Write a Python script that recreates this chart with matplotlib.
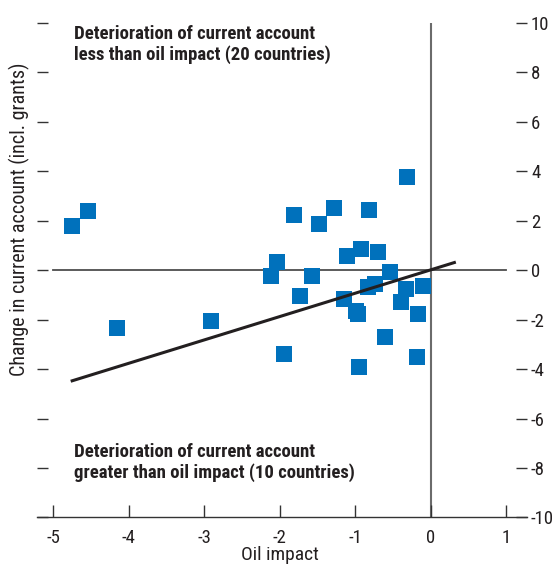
import matplotlib
matplotlib.use("Agg")
import matplotlib.pyplot as plt
from matplotlib import font_manager

# Oil impact vs. change in current account (incl. grants), percent of GDP
oil_impact = [-4.75, -4.54, -4.16, -2.91, -1.95, -2.12, -2.04, -1.81, -1.73, -1.58,
              -1.48, -1.28, -1.11, -1.15, -0.99, -0.96, -0.95, -0.92, -0.83, -0.82,
              -0.74, -0.70, -0.61, -0.54, -0.39, -0.33, -0.31, -0.17, -0.18, -0.10]
ca_change = [1.80, 2.41, -2.32, -2.04, -3.37, -0.22, 0.34, 2.22, -1.06, -0.22,
             1.89, 2.50, 0.59, -1.18, -1.66, -1.76, -3.91, 0.84, -0.66, 2.42,
             -0.57, 0.72, -2.69, -0.09, -1.30, -0.74, 3.79, -1.75, -3.49, -0.62]

# Fitted line endpoints
fit_x = [-4.77, 0.33]
fit_y = [-4.49, 0.33]

x_ticks = [-5, -4, -3, -2, -1, 0, 1]
y_ticks = [-10, -8, -6, -4, -2, 0, 2, 4, 6, 8, 10]

upper_note = "Deterioration of current account\nless than oil impact (20 countries)"
lower_note = "Deterioration of current account\ngreater than oil impact (10 countries)"

# pick a narrow sans face if one is available
available = {f.name for f in font_manager.fontManager.ttflist}
narrow = None
for cand in ("Liberation Sans Narrow", "Roboto Condensed", "Open Sans Condensed",
             "Arial Narrow", "Noto Sans Display"):
    if cand in available:
        narrow = cand
        break
if narrow is None:
    narrow = "DejaVu Sans"
plt.rcParams["font.family"] = [narrow, "DejaVu Sans"]
plt.rcParams["font.stretch"] = "condensed"

ink = "#231F20"

fig = plt.figure(figsize=(5.57, 5.65), dpi=100)
ax = fig.add_axes([0.0673, 0.0841, 0.8785, 0.8752])

ax.set_xlim(-5.21, 1.27)
ax.set_ylim(-10, 10)

# reference lines through the origin
ax.plot([-5, 1], [0, 0], color="#4d4d4d", lw=1.3, zorder=1)
ax.plot([0, 0], [-10, 10], color="#6b6b6b", lw=1.5, zorder=1)

ax.scatter(oil_impact, ca_change, marker="s", s=120, color="#0071BC",
           linewidths=0, zorder=3)
ax.plot(fit_x, fit_y, color=ink, lw=2.2, solid_capstyle="butt", zorder=4)

for side in ("top", "left", "right"):
    ax.spines[side].set_visible(False)
ax.spines["bottom"].set_color("#333333")
ax.spines["bottom"].set_linewidth(1.0)

ax.set_xticks(x_ticks)
ax.set_xticklabels([str(v) for v in x_ticks])
ax.tick_params(axis="x", direction="in", length=9, width=1.0, color="#333333",
               labelsize=13.5, labelcolor=ink, pad=8)

ax.set_yticks(y_ticks)
ax.set_yticklabels([str(v) for v in y_ticks])
ax.tick_params(axis="y", direction="in", left=True, right=True, labelleft=False,
               labelright=True, length=8, width=1.0, color="#333333",
               labelsize=13.5, labelcolor=ink, pad=3)

ax.text(-4.73, 9.93, upper_note, fontsize=13.5, fontweight="bold", color=ink,
        va="top", ha="left", linespacing=1.2)
ax.text(-4.73, -6.97, lower_note, fontsize=13.5, fontweight="bold", color=ink,
        va="top", ha="left", linespacing=1.2)

ax.text(-0.036, 0.604, "Change in current account (incl. grants)", transform=ax.transAxes,
        rotation=90, ha="center", va="center", fontsize=14.5, color=ink)
ax.text(-2, -0.0935, "Oil impact", transform=ax.get_xaxis_transform(),
        ha="center", va="bottom", fontsize=14, color=ink)

fig.savefig("out.png", dpi=100)
